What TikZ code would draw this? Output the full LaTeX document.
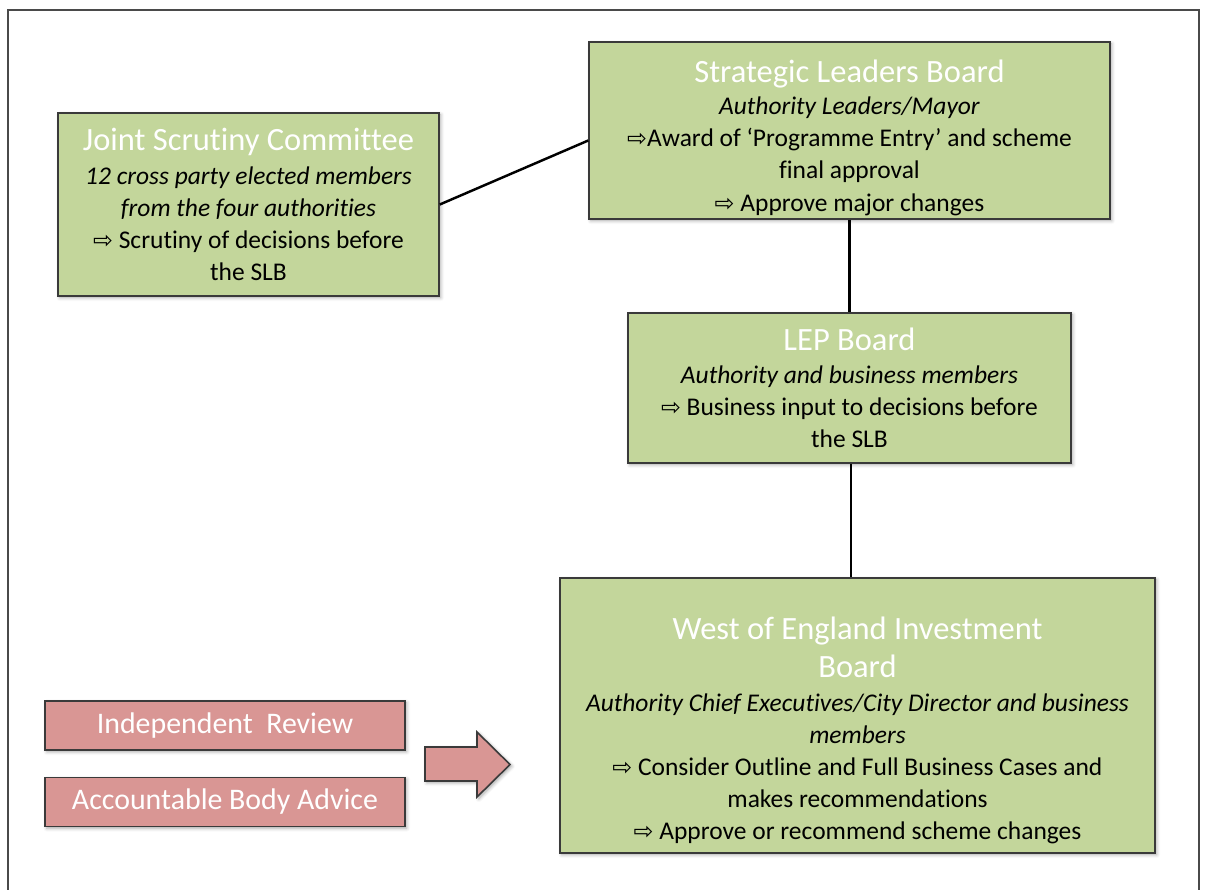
\documentclass[tikz,border=0pt]{standalone}
\usepackage{fontspec}
\setmainfont{Carlito}[Ligatures=NoCommon]
\newfontfamily\arrowfont{DejaVu Sans}
\usepackage{xcolor}
\usepackage{tikz}
\usetikzlibrary{shadows.blur,positioning,calc}
\definecolor{boardfill}{HTML}{C3D69B}
\definecolor{advicefill}{HTML}{D99694}
\definecolor{edge}{HTML}{3A3A3A}
\definecolor{framegrey}{HTML}{4A4A4A}
\newcommand{\pointer}{{\arrowfont\fontsize{13.5}{16}\selectfont\char"21E8}}
\newcommand{\boardtitle}[1]{{\fontsize{18.5}{22}\selectfont\color{white}#1}}

\begin{document}
\begin{tikzpicture}[x=0.02cm,y=-0.02cm,
    board/.style={draw=edge, line width=0.9pt, fill=boardfill, align=center,
      inner sep=2pt, font=\fontsize{14.5}{18.3}\selectfont,
      blur shadow={shadow xshift=1pt,shadow yshift=-1pt,shadow blur steps=4,shadow opacity=35}},
    advice/.style={draw=edge, line width=0.9pt, fill=advicefill, align=center,
      minimum width=7.2cm, minimum height=0.98cm, inner sep=0pt,
      font=\fontsize{17}{20}\selectfont, text=white,
      blur shadow={shadow xshift=1pt,shadow yshift=-1pt,shadow blur steps=4,shadow opacity=35}},
    link/.style={line width=1.4pt, black}]
  \useasboundingbox (0,0) rectangle (1205,890);
  \draw[framegrey, line width=1.4pt] (8,890) -- (8,10) -- (1199,10) -- (1199,890);

  \node[board, minimum width=10.42cm, minimum height=3.54cm] (slb) at (849.5,130.5) {%
    \rule{0pt}{21pt}\boardtitle{Strategic Leaders Board}\\
    \emph{Authority Leaders/Mayor}\\
    \pointer Award of `Programme Entry' and scheme\\
    final approval\\
    \pointer{} Approve major changes};
  \node[board, minimum width=7.62cm, minimum height=3.66cm] (jsc) at (248.5,204.5) {%
    \boardtitle{Joint Scrutiny Committee}\\[1pt]
    \emph{12 cross party elected members}\\
    \emph{from the four authorities}\\
    \pointer{} Scrutiny of decisions before\\
    the SLB};
  \node[board, minimum width=8.86cm, minimum height=3.0cm] (lep) at (849.5,388) {%
    \boardtitle{LEP Board}\\
    \emph{Authority and business members}\\
    \pointer{} Business input to decisions before\\
    the SLB};
  \node[board, minimum width=11.9cm, minimum height=5.5cm] (weib) at (857.5,715.5) {%
    \rule{0pt}{30pt}\boardtitle{West of England Investment}\\[3pt]
    \boardtitle{Board}\\[1pt]
    \emph{Authority Chief Executives/City Director and business}\\
    \emph{members}\\
    \pointer{} Consider Outline and Full Business Cases and\\
    makes recommendations\\
    \pointer{} Approve or recommend scheme changes};

  \node[advice] (review) at (225,725.5) {Independent\ \ Review};
  \node[advice] (body) at (225,802) {Accountable Body Advice};

  \draw[draw=edge, line width=0.9pt, fill=advicefill,
    blur shadow={shadow xshift=1pt,shadow yshift=-1pt,shadow blur steps=4,shadow opacity=35}]
    (425,747) -- (477,747) -- (477,732) -- (510,764.5) -- (477,797) -- (477,781) -- (425,781) -- cycle;

  \draw[link] (jsc.east) -- ([yshift=-0.2cm]slb.west);
  \draw[link] (slb.south) -- (lep.north);
  \draw[link] ([xshift=0.03cm]lep.south) -- ([xshift=0.03cm]lep.south |- weib.north);
\end{tikzpicture}
\end{document}
